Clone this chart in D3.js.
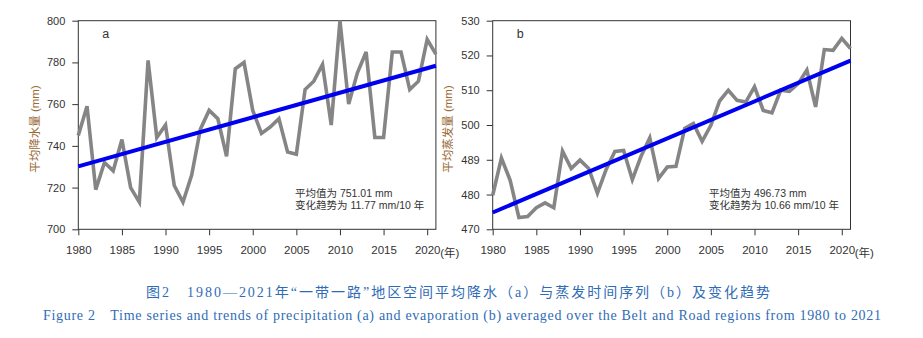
<!DOCTYPE html>
<html>
<head>
<meta charset="utf-8">
<script src="https://cdn.jsdelivr.net/npm/d3@7/dist/d3.min.js"></script>
<style>
  html, body { margin: 0; padding: 0; background: #fff; }
  svg { display: block; }
  .tick text { font-family: "Liberation Sans", Arial, sans-serif; fill: #333; }
</style>
</head>
<body>
<svg id="chart" width="923" height="338"></svg>
<script>
// Years 1980–2021
const years = d3.range(1980, 2022);

// Basin-averaged annual precipitation (mm)
const precipitation = [
  745, 759, 719, 732, 728, 743, 720, 713, 781, 744,
  750, 721, 713, 726, 748, 757, 753, 735, 777, 780,
  757, 746, 749, 753, 737, 736, 767, 771, 779, 750,
  800, 760, 775, 785, 744, 744, 785, 785, 767, 771,
  791, 784
];

// Basin-averaged annual evaporation (mm)
const evaporation = [
  479.8, 490.5, 484.1, 473.4, 473.7, 476.2, 477.6, 476.2, 492.5, 487.5,
  489.9, 487.5, 480.4, 487.2, 492.4, 492.7, 484.3, 491.0, 496.3, 484.6,
  487.9, 488.1, 499.0, 500.4, 495.3, 499.9, 506.9, 510.0, 507.1, 506.6,
  511.0, 504.2, 503.5, 510.0, 509.7, 511.9, 515.8, 505.2, 521.7, 521.5,
  524.9, 522.0
];

// Axis ticks
const xTicks = [1980, 1985, 1990, 1995, 2000, 2005, 2010, 2015, 2020];
const precipTicks = [700, 720, 740, 760, 780, 800];
const evapTicks = [470, 480, 490, 500, 510, 520, 530];
const evapTickLabels = ["470", "480", "489", "500", "510", "520", "530"];

// Summary statistics printed in each panel
const precipMean = 751.01, precipTrendPerDecade = 11.77;
const evapMean = 496.73, evapTrendPerDecade = 10.66;

const svg = d3.select("#chart");
const CJK = "'Liberation Sans', Arial, 'Noto Sans CJK SC', sans-serif";

function panel(opt) {
  const x = d3.scaleLinear().domain([1980, 2021]).range([opt.left, opt.right]);
  const y = d3.scaleLinear().domain(opt.yDomain).range([opt.bottom, opt.top]);
  const g = svg.append("g");

  // x axis
  const xa = g.append("g")
    .attr("transform", `translate(0,${opt.bottom})`)
    .call(d3.axisBottom(x).tickValues(xTicks).tickFormat(d3.format("d"))
      .tickSize(6).tickSizeOuter(0).tickPadding(11));
  xa.select(".domain").remove();
  xa.selectAll(".tick line").attr("stroke", "#333");
  xa.selectAll(".tick text").style("font-size", "11.5px");

  // unit after the last year label
  g.append("text")
    .attr("x", x(2020) + 13).attr("y", opt.bottom + 28)
    .style("font-family", CJK).style("font-size", "11.5px").attr("fill", "#333")
    .text("(年)");

  // y axis
  const ya = g.append("g")
    .attr("transform", `translate(${opt.left},0)`)
    .call(d3.axisLeft(y).tickValues(opt.yTicks)
      .tickFormat((d, i) => opt.yTickLabels[i])
      .tickSize(6).tickSizeOuter(0).tickPadding(7));
  ya.select(".domain").remove();
  ya.selectAll(".tick line").attr("stroke", "#333");
  ya.selectAll(".tick text").style("font-size", "11px");

  // frame
  g.append("rect")
    .attr("x", opt.left).attr("y", opt.top)
    .attr("width", opt.right - opt.left).attr("height", opt.bottom - opt.top)
    .attr("fill", "none").attr("stroke", "#333").attr("stroke-width", 1);

  // y title
  g.append("text")
    .attr("transform", `translate(${opt.titleX},${(opt.top + opt.bottom) / 2 + 4}) rotate(-90)`)
    .attr("text-anchor", "middle")
    .style("font-family", CJK).style("font-size", "11.5px")
    .attr("fill", "#9a6a36")
    .text(opt.yTitle);

  // series
  const line = d3.line().x((d, i) => x(years[i])).y(d => y(d));
  g.append("path")
    .datum(opt.values)
    .attr("d", line)
    .attr("fill", "none").attr("stroke", "#858585")
    .attr("stroke-width", 3.6).attr("stroke-linejoin", "miter");

  // linear trend with the stated rate, through the series centroid
  const slope = opt.trendPerDecade / 10;
  const ym = d3.mean(years), vm = d3.mean(opt.values);
  const trend = [1980, 2021].map(t => [t, vm + slope * (t - ym)]);
  g.append("path")
    .datum(trend)
    .attr("d", d3.line().x(d => x(d[0])).y(d => y(d[1])))
    .attr("fill", "none").attr("stroke", "#0000f0").attr("stroke-width", 4);

  // panel letter
  g.append("text")
    .attr("x", opt.left + 24).attr("y", opt.top + 17)
    .style("font-family", "'Liberation Sans', Arial, sans-serif").style("font-size", "12.5px")
    .attr("fill", "#333").text(opt.letter);

  // statistics
  const st = g.append("text")
    .style("font-family", CJK).style("font-size", "10.5px").attr("fill", "#333");
  st.append("tspan").attr("x", opt.statX).attr("y", 196.5)
    .text(`平均值为 ${opt.mean.toFixed(2)} mm`);
  st.append("tspan").attr("x", opt.statX).attr("y", 209)
    .text(`变化趋势为 ${opt.trendPerDecade.toFixed(2)} mm/10 年`);
}

panel({
  left: 78.3, right: 435.9, top: 20.7, bottom: 229.3,
  yDomain: [700, 800], yTicks: precipTicks, yTickLabels: precipTicks.map(String),
  values: precipitation, trendPerDecade: precipTrendPerDecade, mean: precipMean,
  yTitle: "平均降水量 (mm)", titleX: 39, letter: "a", statX: 295
});

panel({
  left: 492.7, right: 850.5, top: 20.7, bottom: 229.3,
  yDomain: [470, 530], yTicks: evapTicks, yTickLabels: evapTickLabels,
  values: evaporation, trendPerDecade: evapTrendPerDecade, mean: evapMean,
  yTitle: "平均蒸发量 (mm)", titleX: 452, letter: "b", statX: 709
});

// figure caption
const capColor = "#2f6cb6";
svg.append("text")
  .attr("x", 146).attr("y", 296.5)
  .attr("textLength", 624).attr("lengthAdjust", "spacing")
  .style("font-family", "'Liberation Serif', 'Times New Roman', 'Noto Sans CJK SC', serif")
  .style("font-size", "14px").attr("fill", capColor)
  .text("图2　1980—2021年“一带一路”地区空间平均降水（a）与蒸发时间序列（b）及变化趋势");

svg.append("text")
  .attr("x", 43).attr("y", 320)
  .attr("textLength", 838).attr("lengthAdjust", "spacing")
  .style("font-family", "'Liberation Serif', 'Times New Roman', serif")
  .style("font-size", "14px").attr("fill", capColor)
  .text("Figure 2\u2003Time series and trends of precipitation (a) and evaporation (b) averaged over the Belt and Road regions from 1980 to 2021");
</script>
</body>
</html>
